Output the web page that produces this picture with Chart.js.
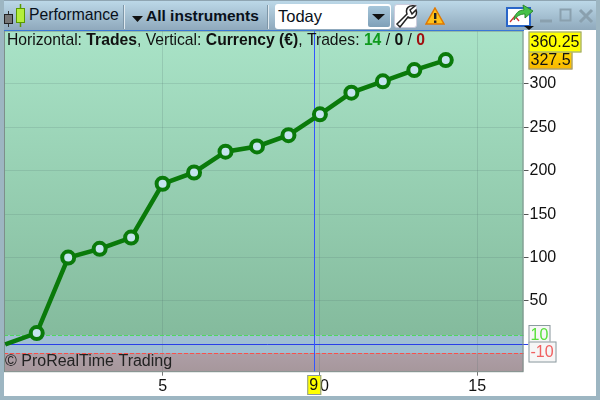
<!DOCTYPE html>
<html>
<head>
<meta charset="utf-8">
<script src="https://cdn.jsdelivr.net/npm/chart.js@4/dist/chart.umd.min.js"></script>
<style>
html, body { margin: 0; padding: 0; background: #fff; }
body { width: 600px; height: 400px; position: relative; overflow: hidden; font-family: "Liberation Sans", Arial, sans-serif; }
#frame { position: absolute; left: 0; top: 0; width: 600px; height: 400px; box-sizing: border-box; border: 4px solid #9db6c2; border-top: none; pointer-events: none; z-index: 3; }
#bar { position: absolute; left: 0; top: 0; width: 600px; height: 30px; background: linear-gradient(#bcd8e8, #8fa9bc); border-top: 1px solid #8fa5b2; box-sizing: border-box; z-index: 2; }
#bar span { position: absolute; white-space: nowrap; color: #08101a; }
#bar svg { position: absolute; }
.sep { position: absolute; top: 4px; width: 1px; height: 24px; background: #dfe9ef; border-left: 1px solid #7e97a8; }
#combo { position: absolute; left: 275px; top: 3px; width: 116px; height: 25px; background: #fff; border-radius: 3px; box-sizing: border-box; }
#arrow { position: absolute; left: 368px; top: 5px; width: 22px; height: 21px; background: linear-gradient(#a6c6da, #7fa0b8); border-radius: 2px; }
#wrench { position: absolute; left: 394px; top: 3px; width: 23px; height: 24px; background: #fff; border-radius: 3px; box-sizing: border-box; border: 1px solid #ccd; }
#topline { position: absolute; left: 4px; top: 30px; width: 520px; height: 1px; background: #3a78d8; z-index: 2; }
#chart { position: absolute; left: 0; top: 0; }
</style>
</head>
<body>
<canvas id="chart" width="600" height="400"></canvas>
<div id="bar">
  <svg style="left:0;top:-1px" width="28" height="30">
    <line x1="8.5" y1="11" x2="8.5" y2="27" stroke="#333"/><rect x="4.5" y="14.5" width="8" height="9" fill="#777" stroke="#222"/>
    <line x1="20.5" y1="4" x2="20.5" y2="27" stroke="#5a9a00" stroke-width="1.5"/><rect x="16.5" y="8.5" width="8" height="14" fill="#b4ee3c" stroke="#5a9a00"/>
  </svg>
  <span style="left:29px;top:5px;font-size:15.7px">Performance</span>
  <div class="sep" style="left:123px"></div>
  <svg style="left:132px;top:15px" width="12" height="7"><path d="M0 0H11L5.5 6Z" fill="#111"/></svg>
  <span style="left:146px;top:6px;font-size:15.5px;font-weight:bold">All instruments</span>
  <div class="sep" style="left:267px"></div>
  <div id="combo"></div>
  <span style="left:278px;top:6px;font-size:16.5px">Today</span>
  <div id="arrow"></div>
  <svg style="left:372px;top:13px" width="14" height="7"><path d="M0 0H13L6.5 6Z" fill="#111"/></svg>
  <div id="wrench"></div>
  <svg style="left:395px;top:3px" width="23" height="24"><path d="M2 20 L12 10 C10 4 14 1 20 2 L15 6 L17 10 L21 6 C23 12 18 16 13 13 L5 23 Z" fill="#fff" stroke="#222" stroke-width="1.5"/></svg>
  <svg style="left:425px;top:6px" width="20" height="19"><path d="M10 1 L19 17 H1 Z" fill="#ffc21a" stroke="#e07800" stroke-width="1.5"/><rect x="9" y="6" width="2.4" height="6" fill="#222"/><rect x="9" y="13.5" width="2.4" height="2.4" fill="#222"/></svg>
  <svg style="left:505px;top:1px" width="30" height="29">
    <rect x="2" y="6" width="23" height="18" fill="#fff" stroke="#2a66c8" stroke-width="2"/>
    <path d="M5 20 L10 14 L14 19" fill="none" stroke="#d03030" stroke-width="1.3"/>
    <path d="M9 18 C10 11 14 8 19 8 L18 3 L28 9 L20 16 L20 12 C15 12 12 14 9 18Z" fill="#46c14a" stroke="#2b8a30"/>
    <path d="M19 24 H29 L24 28 Z" fill="#111"/>
  </svg>
  <svg style="left:538px;top:6px" width="58" height="18" fill="none" stroke="#8aa0ae" stroke-width="3">
    <line x1="2" y1="14" x2="14" y2="14"/>
    <rect x="22.5" y="2.5" width="10" height="11" stroke-width="2"/>
    <path d="M42 3 L54 15 M54 3 L42 15"/>
  </svg>
</div>
<div id="topline"></div>
<div id="frame"></div>
<script>
const trades = [0, 1, 2, 3, 4, 5, 6, 7, 8, 9, 10, 11, 12, 13, 14];
const gains = [0, 13, 100, 110, 123, 185, 198, 222, 228, 241, 265, 290, 303, 316, 327.5];
const xTicks = [5, 10, 15];
const yTicks = [50, 100, 150, 200, 250, 300];
const yLimits = [10, -10];
const lastGain = 327.5;
const topValue = 360.25;
const cursorTrade = 9.82;
const cursorLabel = "9";
const copyright = "\u00a9 ProRealTime Trading";

function box(c, text, xc, yc, w, h, fill, stroke, color) {
  c.fillStyle = fill;
  c.fillRect(xc, yc - h / 2, w, h);
  c.strokeStyle = stroke;
  c.lineWidth = 1;
  c.strokeRect(xc + .5, yc - h / 2 + .5, w - 1, h - 1);
  c.fillStyle = color;
  c.textAlign = "left";
  c.textBaseline = "middle";
  c.fillText(text, xc + 2, yc + 1);
}

const zones = {
  id: "zones",
  beforeDatasetsDraw(chart) {
    const { ctx: c, chartArea: a, scales: { x, y } } = chart;
    c.save();
    const up = Math.floor(y.getPixelForValue(yLimits[0]));
    const down = Math.floor(y.getPixelForValue(yLimits[1]));
    const g = c.createLinearGradient(0, a.top, 0, up);
    g.addColorStop(0, "#a9e3c7");
    g.addColorStop(1, "#84bb9d");
    c.globalCompositeOperation = "destination-over";
    c.fillStyle = g;
    c.fillRect(a.left, a.top, a.width, up - a.top);
    c.fillStyle = "#a0bfd2";
    c.fillRect(a.left, up, a.width, down - up);
    const g2 = c.createLinearGradient(0, down, 0, a.bottom);
    g2.addColorStop(0, "#ae9ea6");
    g2.addColorStop(1, "#a6979c");
    c.fillStyle = g2;
    c.fillRect(a.left, down, a.width, a.bottom - down);
    c.globalCompositeOperation = "source-over";
    // limits and zero line
    c.lineWidth = 1;
    c.setLineDash([4, 2]);
    c.strokeStyle = "#4fd860";
    c.beginPath(); c.moveTo(a.left, up + .5); c.lineTo(a.right, up + .5); c.stroke();
    c.strokeStyle = "#f8504c";
    c.beginPath(); c.moveTo(a.left, down + .5); c.lineTo(a.right, down + .5); c.stroke();
    c.setLineDash([]);
    c.strokeStyle = "#2a3ee8";
    const zero = Math.round(y.getPixelForValue(0)) + .5;
    c.beginPath(); c.moveTo(a.left, zero); c.lineTo(a.right + 8, zero); c.stroke();
    const cx = Math.round(x.getPixelForValue(cursorTrade)) + .5;
    c.strokeStyle = "#3355ff";
    c.beginPath(); c.moveTo(cx, a.top); c.lineTo(cx, a.bottom); c.stroke();
    c.strokeStyle = "#7d8f8a";
    c.strokeRect(a.left + .5, a.top, a.width - 1, a.height);
    c.restore();
  },
  afterDraw(chart) {
    const { ctx: c, chartArea: a, scales: { x, y } } = chart;
    c.save();
    c.font = '16px "Liberation Sans"';
    c.textBaseline = "middle";
    c.textAlign = "left";
    c.fillStyle = "#222";
    c.fillText(copyright, 5, 362);

    // header line
    let px = 7;
    const parts = [
      ["Horizontal: ", "normal", "#111"], ["Trades", "bold", "#111"], [", Vertical: ", "normal", "#111"],
      ["Currency (\u20ac)", "bold", "#111"], [", Trades: ", "normal", "#111"], ["14", "bold", "#0f9a1e"],
      [" / ", "normal", "#111"], ["0", "bold", "#111"], [" / ", "normal", "#111"], ["0", "bold", "#a01010"]
    ];
    parts.forEach(p => {
      c.font = p[1] + ' 15.7px "Liberation Sans"';
      c.fillStyle = p[2];
      c.fillText(p[0], px, 41);
      px += c.measureText(p[0]).width;
    });

    // value tags on the right axis
    c.font = '16px "Liberation Sans"';
    const tagX = a.right + 5;
    const g = c.createLinearGradient(0, 51, 0, 70);
    g.addColorStop(0, "#ffd800");
    g.addColorStop(1, "#f8b400");
    box(c, String(lastGain), tagX, 60, 44, 19, g, "#8b98a0", "#111");
    box(c, String(topValue), tagX, 42, 53, 21, "#ffff00", "#8b98a0", "#111");
    box(c, String(yLimits[0]), tagX, 335, 22, 20, "#f6f6f6", "#8b9aa0", "#58e03a");
    box(c, String(yLimits[1]), tagX, 352, 28, 21, "#f6f6f6", "#8b9aa0", "#f06060");

    // cursor tag on the bottom axis
    const cx = x.getPixelForValue(cursorTrade);
    box(c, cursorLabel, cx - 7, 385, 14, 20, "#ffff00", "#8b98a0", "#111");
    c.restore();
  }
};

new Chart(document.getElementById("chart"), {
  type: "line",
  data: {
    labels: trades,
    datasets: [{
      data: trades.map((t, i) => ({ x: t, y: gains[i] })),
      borderColor: "#0a7a0a",
      borderWidth: 4.5,
      tension: 0,
      clip: false,
      pointRadius: c => c.dataIndex === 0 ? 0 : 6,
      pointHoverRadius: 6,
      pointBorderWidth: 4,
      pointBorderColor: "#0a7a0a",
      pointBackgroundColor: "#c5e4ee"
    }]
  },
  options: {
    responsive: false,
    animation: false,
    events: [],
    devicePixelRatio: 1,
    layout: { autoPadding: false, padding: { left: 4, top: 31, right: 10, bottom: 8 } },
    plugins: { legend: { display: false }, tooltip: { enabled: false } },
    scales: {
      x: {
        type: "linear",
        min: -0.04,
        max: 16.47,
        afterBuildTicks: s => { s.ticks = xTicks.map(v => ({ value: v })); },
        afterFit: s => { s.height = 20.3; },
        border: { display: false },
        grid: { color: "rgba(70,100,100,.18)", tickColor: "#777", tickLength: 4 },
        ticks: { color: "#111", font: { family: "Liberation Sans", size: 16 }, padding: 1, maxRotation: 0, autoSkip: false }
      },
      y: {
        position: "right",
        min: -31.5,
        max: 361,
        afterBuildTicks: s => { s.ticks = yTicks.map(v => ({ value: v })); },
        afterFit: s => { s.width = 66.5; },
        border: { display: false },
        grid: { color: "rgba(70,100,100,.16)", tickColor: "#555", tickLength: 5 },
        ticks: { color: "#111", font: { family: "Liberation Sans", size: 16 }, padding: 1, autoSkip: false }
      }
    }
  },
  plugins: [zones]
});
</script>
</body>
</html>
